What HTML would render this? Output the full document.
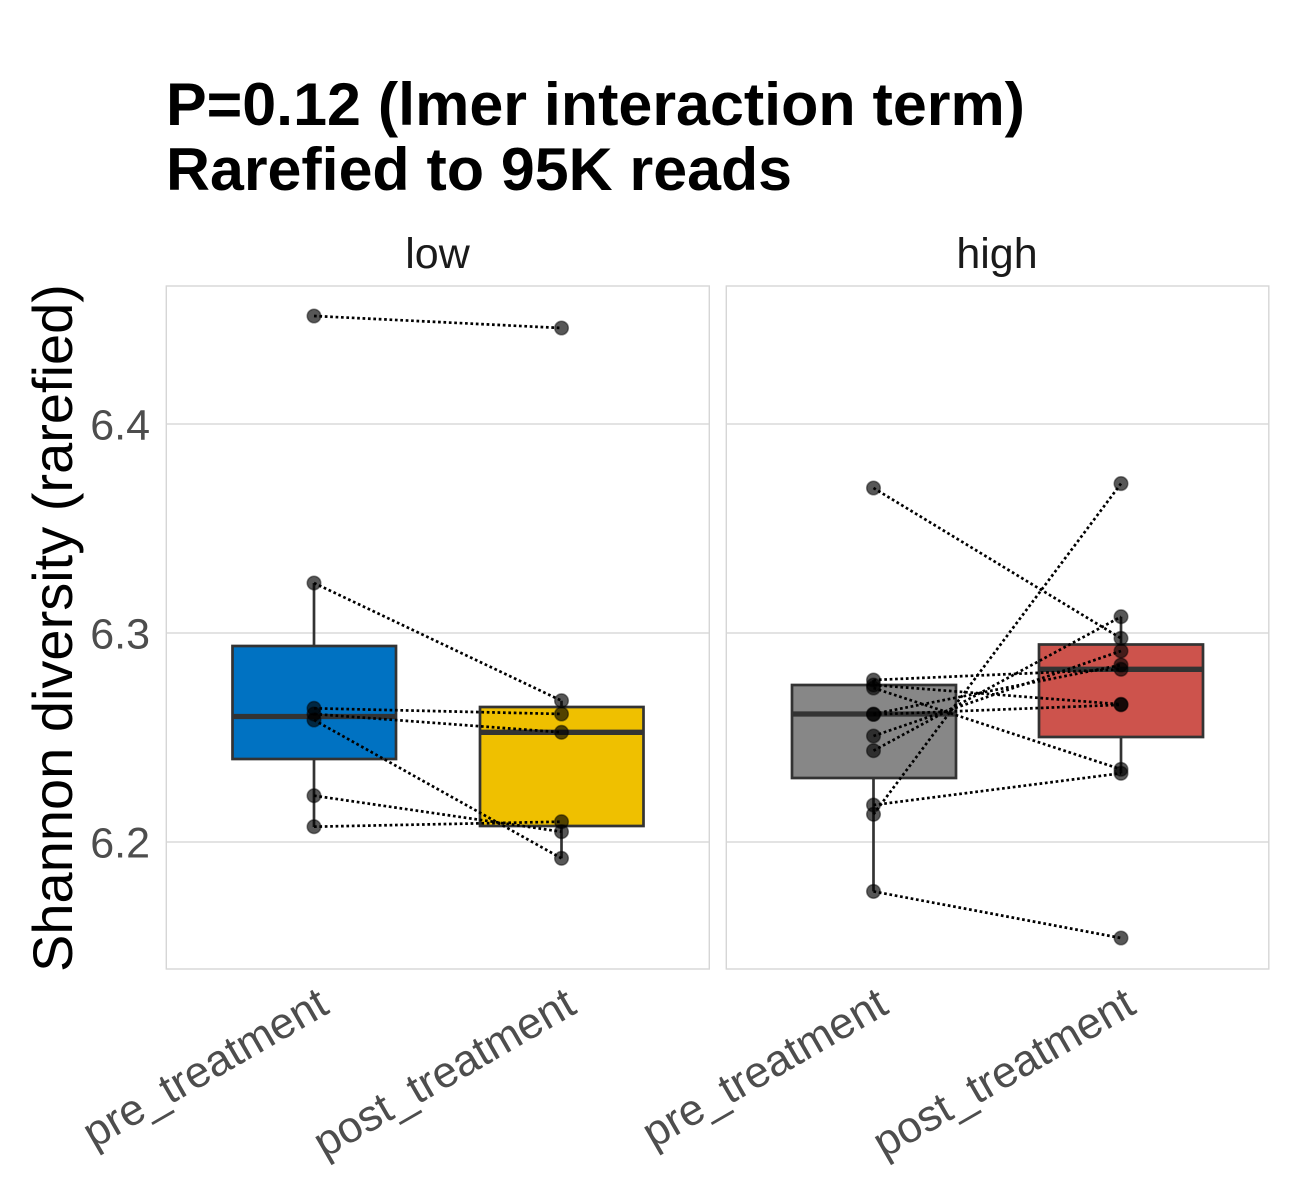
<!DOCTYPE html>
<html>
<head>
<meta charset="utf-8">
<style>
  html, body { margin: 0; padding: 0; background: #ffffff; }
  svg { display: block; }
  text { font-family: "Liberation Sans", Arial, sans-serif; }
</style>
</head>
<body>
<svg width="1300" height="1200" viewBox="0 0 1300 1200" xmlns="http://www.w3.org/2000/svg">
  <rect x="0" y="0" width="1300" height="1200" fill="#ffffff"/>

  <!-- Title -->
  <text x="166" y="125" font-size="60" font-weight="bold" fill="#000" textLength="859" lengthAdjust="spacingAndGlyphs">P=0.12 (lmer interaction term)</text>
  <text x="166" y="190" font-size="60" font-weight="bold" fill="#000" textLength="626" lengthAdjust="spacingAndGlyphs">Rarefied to 95K reads</text>

  <!-- Strip labels -->
  <text x="437.5" y="268" font-size="43" fill="#1a1a1a" text-anchor="middle">low</text>
  <text x="997" y="268" font-size="43" fill="#1a1a1a" text-anchor="middle">high</text>

  <!-- Y axis title -->
  <text transform="translate(72,628) rotate(-90)" font-size="56" fill="#000" text-anchor="middle">Shannon diversity (rarefied)</text>

  <!-- Y tick labels -->
  <g font-size="43" fill="#4d4d4d" text-anchor="end">
    <text x="150" y="439.5">6.4</text>
    <text x="150" y="648.5">6.3</text>
    <text x="150" y="857.5">6.2</text>
  </g>

  <!-- Panels: gridlines and border -->
  <g stroke="#dadada" stroke-width="1.4">
    <line x1="166" y1="424" x2="709" y2="424"/>
    <line x1="166" y1="633" x2="709" y2="633"/>
    <line x1="166" y1="842" x2="709" y2="842"/>
    <line x1="726" y1="424" x2="1268.5" y2="424"/>
    <line x1="726" y1="633" x2="1268.5" y2="633"/>
    <line x1="726" y1="842" x2="1268.5" y2="842"/>
  </g>
  <rect x="166.3" y="286" width="543" height="683" fill="none" stroke="#d6d6d6" stroke-width="1.4"/>
  <rect x="726.3" y="286" width="542.5" height="683" fill="none" stroke="#d6d6d6" stroke-width="1.4"/>

  <!-- Boxplots -->
  <g stroke="#333333" stroke-width="2.7">
    <!-- left pre -->
    <line x1="314" y1="583" x2="314" y2="646"/>
    <line x1="314" y1="759" x2="314" y2="827"/>
    <rect x="232.5" y="646" width="163.5" height="113" fill="#0072C2"/>
    <line x1="232.5" y1="716.5" x2="396" y2="716.5" stroke-width="5.3"/>
    <!-- left post -->
    <line x1="561.5" y1="700.7" x2="561.5" y2="707"/>
    <line x1="561.5" y1="826" x2="561.5" y2="858.3"/>
    <rect x="480" y="707" width="163.5" height="119" fill="#EFC000"/>
    <line x1="480" y1="732.3" x2="643.5" y2="732.3" stroke-width="5.3"/>
    <!-- right pre -->
    <line x1="873.5" y1="680" x2="873.5" y2="685"/>
    <line x1="873.5" y1="778" x2="873.5" y2="891.4"/>
    <rect x="792" y="685" width="164" height="93" fill="#878787"/>
    <line x1="792" y1="714" x2="956" y2="714" stroke-width="5.3"/>
    <!-- right post -->
    <line x1="1121" y1="616.7" x2="1121" y2="644.5"/>
    <line x1="1121" y1="737" x2="1121" y2="773.3"/>
    <rect x="1039" y="644.5" width="164" height="92.5" fill="#CD534C"/>
    <line x1="1039" y1="669.3" x2="1203" y2="669.3" stroke-width="5.3"/>
  </g>

  <!-- Points -->
  <g fill="#000" fill-opacity="0.66" stroke="#000" stroke-opacity="0.45" stroke-width="1.5">
    <!-- left pre -->
    <circle cx="314" cy="316" r="6.8"/>
    <circle cx="314" cy="583" r="6.8"/>
    <circle cx="314" cy="708.3" r="6.8"/>
    <circle cx="314" cy="714" r="6.8"/>
    <circle cx="314" cy="720" r="6.8"/>
    <circle cx="314" cy="795.7" r="6.8"/>
    <circle cx="314" cy="826.7" r="6.8"/>
    <!-- left post -->
    <circle cx="561.5" cy="328" r="6.8"/>
    <circle cx="561.5" cy="700.7" r="6.8"/>
    <circle cx="561.5" cy="714" r="6.8"/>
    <circle cx="561.5" cy="732.3" r="6.8"/>
    <circle cx="561.5" cy="821.7" r="6.8"/>
    <circle cx="561.5" cy="831.7" r="6.8"/>
    <circle cx="561.5" cy="858.3" r="6.8"/>
    <!-- right pre -->
    <circle cx="873.5" cy="488" r="6.8"/>
    <circle cx="873.5" cy="680" r="6.8"/>
    <circle cx="873.5" cy="685" r="6.8"/>
    <circle cx="873.5" cy="688" r="6.8"/>
    <circle cx="873.5" cy="714" r="6.8"/>
    <circle cx="873.5" cy="714.5" r="6.8"/>
    <circle cx="873.5" cy="736" r="6.8"/>
    <circle cx="873.5" cy="750.7" r="6.8"/>
    <circle cx="873.5" cy="805" r="6.8"/>
    <circle cx="873.5" cy="814.3" r="6.8"/>
    <circle cx="873.5" cy="891.4" r="6.8"/>
    <!-- right post -->
    <circle cx="1121" cy="483.6" r="6.8"/>
    <circle cx="1121" cy="616.7" r="6.8"/>
    <circle cx="1121" cy="638.3" r="6.8"/>
    <circle cx="1121" cy="651" r="6.8"/>
    <circle cx="1121" cy="665" r="6.8"/>
    <circle cx="1121" cy="669.3" r="6.8"/>
    <circle cx="1121" cy="704.3" r="6.8"/>
    <circle cx="1121" cy="704.8" r="6.8"/>
    <circle cx="1121" cy="769.3" r="6.8"/>
    <circle cx="1121" cy="773.3" r="6.8"/>
    <circle cx="1121" cy="938" r="6.8"/>
  </g>

  <!-- Paired dotted lines -->
  <g stroke="#000" stroke-width="2.7" stroke-dasharray="2.7 2.7" fill="none">
    <line x1="314" y1="316" x2="561.5" y2="328"/>
    <line x1="314" y1="583" x2="561.5" y2="700.7"/>
    <line x1="314" y1="708.3" x2="561.5" y2="714"/>
    <line x1="314" y1="714" x2="561.5" y2="732.3"/>
    <line x1="314" y1="720" x2="561.5" y2="858.3"/>
    <line x1="314" y1="795.7" x2="561.5" y2="831.7"/>
    <line x1="314" y1="826.7" x2="561.5" y2="821.7"/>

    <line x1="873.5" y1="488" x2="1121" y2="638.3"/>
    <line x1="873.5" y1="680" x2="1121" y2="669.3"/>
    <line x1="873.5" y1="685" x2="1121" y2="704.3"/>
    <line x1="873.5" y1="688" x2="1121" y2="769.3"/>
    <line x1="873.5" y1="714" x2="1121" y2="665"/>
    <line x1="873.5" y1="714.5" x2="1121" y2="704.8"/>
    <line x1="873.5" y1="736" x2="1121" y2="651"/>
    <line x1="873.5" y1="750.7" x2="1121" y2="616.7"/>
    <line x1="873.5" y1="805" x2="1121" y2="773.3"/>
    <line x1="873.5" y1="814.3" x2="1121" y2="483.6"/>
    <line x1="873.5" y1="891.4" x2="1121" y2="938"/>
  </g>

  <!-- X tick labels (rotated) -->
  <g font-size="44" fill="#4d4d4d" text-anchor="end">
    <text transform="translate(331,1012) rotate(-30)">pre_treatment</text>
    <text transform="translate(578.5,1012) rotate(-30)">post_treatment</text>
    <text transform="translate(890.5,1012) rotate(-30)">pre_treatment</text>
    <text transform="translate(1138,1012) rotate(-30)">post_treatment</text>
  </g>
</svg>
</body>
</html>
